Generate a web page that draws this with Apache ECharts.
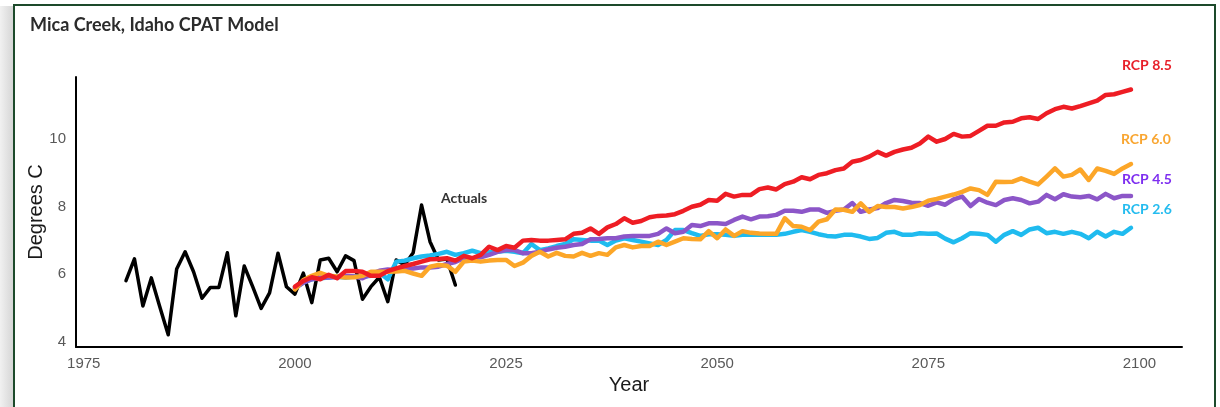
<!DOCTYPE html>
<html>
<head>
<meta charset="utf-8">
<script src="https://cdn.jsdelivr.net/npm/echarts@6/dist/echarts.min.js"></script>
<style>
  html, body { margin: 0; padding: 0; background: #fff; }
  #shade {
    position: absolute; left: 0; top: 6px; width: 13px; height: 420px;
    background: linear-gradient(to right, #f1f1f1, #d6d6d6);
  }
  #frame {
    position: absolute; left: 13px; top: 4px; width: 1199px; height: 430px;
    border: 2px solid #1d4a2b; background: #fff;
  }
  #chart { position: absolute; left: 0; top: 0; width: 1220px; height: 407px; }
</style>
</head>
<body>
<div id="shade"></div>
<div id="frame"></div>
<div id="chart"></div>
<script>
// observed annual mean temperature, 1980-2019
const actualStart = 1980
const actuals = [5.81, 6.45, 5.06, 5.89, 5.04, 4.21, 6.15, 6.66, 6.07, 5.29,
  5.61, 5.61, 6.63, 4.77, 6.24, 5.63, 4.99, 5.45, 6.62, 5.63,
  5.41, 6.03, 5.16, 6.42, 6.47, 6.07, 6.54, 6.40, 5.26, 5.63,
  5.91, 5.19, 6.42, 6.27, 6.63, 8.04, 6.96, 6.42, 6.45, 5.68]

// model projections, 2000-2099
const modelStart = 2000
const rcp85 = [5.63, 5.8, 5.91, 5.85, 5.98, 5.88, 6.09, 6.09, 6.07, 5.95,
  5.95, 6.09, 6.17, 6.24, 6.30, 6.37, 6.44, 6.45, 6.47, 6.4,
  6.54, 6.47, 6.57, 6.81, 6.71, 6.83, 6.78, 6.99, 7.01, 6.99,
  6.99, 7.01, 7.03, 7.19, 7.22, 7.35, 7.19, 7.38, 7.48, 7.65,
  7.52, 7.57, 7.68, 7.72, 7.73, 7.77, 7.87, 7.99, 8.05, 8.19,
  8.17, 8.37, 8.29, 8.34, 8.34, 8.51, 8.56, 8.5, 8.66, 8.73,
  8.86, 8.8, 8.93, 8.98, 9.07, 9.12, 9.32, 9.37, 9.47, 9.61,
  9.5, 9.61, 9.68, 9.73, 9.86, 10.06, 9.91, 9.99, 10.14, 10.06,
  10.08, 10.23, 10.38, 10.38, 10.48, 10.5, 10.6, 10.63, 10.58, 10.75,
  10.87, 10.94, 10.89, 10.96, 11.04, 11.12, 11.29, 11.31, 11.38, 11.45]
const rcp60 = [5.55, 5.83, 5.95, 6.04, 5.95, 5.93, 5.9, 5.91, 5.95, 6.07,
  6.07, 6.07, 6.08, 6.1, 6.02, 5.95, 6.22, 6.27, 6.25, 6.07,
  6.37, 6.4, 6.37, 6.4, 6.42, 6.42, 6.24, 6.34, 6.54, 6.66,
  6.52, 6.63, 6.54, 6.52, 6.63, 6.54, 6.62, 6.57, 6.79, 6.86,
  6.79, 6.83, 6.83, 6.96, 6.86, 6.96, 7.06, 7.04, 7.03, 7.27,
  7.06, 7.32, 7.13, 7.27, 7.22, 7.2, 7.19, 7.19, 7.65, 7.42,
  7.4, 7.3, 7.55, 7.62, 7.91, 7.9, 7.84, 8.09, 7.84, 8.01,
  7.98, 7.98, 7.94, 7.98, 8.04, 8.17, 8.22, 8.29, 8.35, 8.43,
  8.53, 8.48, 8.34, 8.73, 8.72, 8.73, 8.83, 8.73, 8.65, 8.88,
  9.12, 8.88, 8.93, 9.09, 8.78, 9.12, 9.05, 8.96, 9.12, 9.25]
const rcp45 = [5.58, 5.75, 5.85, 5.9, 5.9, 5.92, 5.95, 5.93, 5.88, 6.0,
  6.1, 6.14, 6.12, 6.17, 6.17, 6.2, 6.2, 6.22, 6.3, 6.36,
  6.47, 6.47, 6.5, 6.57, 6.66, 6.71, 6.71, 6.62, 6.62, 6.66,
  6.73, 6.78, 6.81, 6.86, 6.89, 7.03, 7.04, 7.06, 7.06, 7.11,
  7.13, 7.13, 7.13, 7.19, 7.35, 7.21, 7.25, 7.45, 7.42, 7.5,
  7.5, 7.48, 7.6, 7.7, 7.62, 7.7, 7.71, 7.75, 7.87, 7.87,
  7.84, 7.91, 7.91, 7.81, 7.87, 7.91, 8.1, 7.84, 7.91, 7.95,
  8.1, 8.19, 8.16, 8.11, 8.1, 8.02, 8.12, 8.05, 8.21, 8.29,
  8.01, 8.22, 8.11, 8.04, 8.19, 8.24, 8.19, 8.09, 8.14, 8.34,
  8.21, 8.36, 8.29, 8.27, 8.31, 8.21, 8.37, 8.24, 8.31, 8.31]
const rcp26 = [5.6, 5.75, 5.85, 5.88, 5.9, 5.92, 5.9, 5.93, 5.92, 5.95,
  6.05, 5.85, 6.37, 6.4, 6.47, 6.52, 6.55, 6.6, 6.66, 6.57,
  6.62, 6.69, 6.62, 6.65, 6.66, 6.69, 6.66, 6.62, 6.89, 6.71,
  6.76, 6.83, 6.89, 7.03, 7.01, 6.99, 6.99, 6.86, 6.99, 7.06,
  7.01, 6.96, 6.91, 6.86, 7.01, 7.3, 7.3, 7.21, 7.13, 7.18,
  7.18, 7.16, 7.13, 7.16, 7.16, 7.17, 7.16, 7.16, 7.19, 7.25,
  7.3, 7.25, 7.18, 7.13, 7.11, 7.16, 7.16, 7.11, 7.04, 7.07,
  7.22, 7.25, 7.16, 7.16, 7.21, 7.19, 7.2, 7.05, 6.94, 7.06,
  7.21, 7.19, 7.16, 6.96, 7.16, 7.27, 7.16, 7.32, 7.37, 7.21,
  7.25, 7.19, 7.25, 7.19, 7.06, 7.25, 7.11, 7.25, 7.19, 7.37]

const xTicks = [1975, 2000, 2025, 2050, 2075, 2100]
const yTicks = [4, 6, 8, 10]

function pairs(start, arr) {
    return arr.map(function (v, i) { return [start + i, v] })
}

let chart = echarts.init(document.querySelector('#chart'), null, { renderer: 'canvas' })

let lineStyleOf = function (color, w) {
    return { color: color, width: w, cap: 'round', join: 'round' }
}

let option = {
    backgroundColor: 'transparent',
    animation: false,
    title: {
        text: 'Mica Creek, Idaho CPAT Model',
        left: 30,
        top: 16,
        padding: 0,
        textStyle: { fontFamily: 'Lato', fontWeight: 'bold', fontSize: 18, color: '#2b2b2b' }
    },
    grid: { left: 76, right: 38, top: 77, bottom: 60, outerBoundsMode: 'none' },
    xAxis: {
        type: 'value',
        min: 1974.08,
        max: 2105.04,
        name: 'Year',
        nameLocation: 'middle',
        nameGap: 28,
        nameMoveOverlap: false,
        nameTextStyle: { fontFamily: 'Liberation Sans', fontSize: 20, color: '#1a1a1a' },
        axisLine: { lineStyle: { color: '#000', width: 2 } },
        axisTick: { show: false },
        splitLine: { show: false },
        axisLabel: {
            customValues: xTicks,
            margin: 9,
            fontFamily: 'Liberation Sans',
            fontSize: 15,
            color: '#595959',
            formatter: function (v) { return String(v) }
        }
    },
    yAxis: {
        type: 'value',
        min: 3.85,
        max: 11.82,
        name: 'Degrees C',
        nameLocation: 'middle',
        nameGap: 30,
        nameMoveOverlap: false,
        nameTextStyle: { fontFamily: 'Liberation Sans', fontSize: 20, color: '#1a1a1a' },
        axisLine: { show: true, lineStyle: { color: '#000', width: 2 } },
        axisTick: { show: false },
        splitLine: { show: false },
        axisLabel: {
            customValues: yTicks,
            margin: 10,
            fontFamily: 'Liberation Sans',
            fontSize: 15,
            color: '#595959'
        }
    },
    graphic: [
        { type: 'text', left: 1122, top: 58, style: { text: 'RCP 8.5', fill: '#e8202a', font: 'bold 14px Lato' } },
        { type: 'text', left: 1121, top: 132, style: { text: 'RCP 6.0', fill: '#f9a631', font: 'bold 14px Lato' } },
        { type: 'text', left: 1122, top: 172, style: { text: 'RCP 4.5', fill: '#7e2ff0', font: 'bold 14px Lato' } },
        { type: 'text', left: 1122, top: 202, style: { text: 'RCP 2.6', fill: '#25bcef', font: 'bold 14px Lato' } },
        { type: 'text', left: 441, top: 191, style: { text: 'Actuals', fill: '#333333', font: 'bold 14px Lato' } }
    ],
    series: [
        { name: 'Actuals', type: 'line', data: pairs(actualStart, actuals), showSymbol: false, lineStyle: lineStyleOf('#000000', 3.5) },
        { name: 'RCP 2.6', type: 'line', data: pairs(modelStart, rcp26), showSymbol: false, lineStyle: lineStyleOf('#1fbbef', 4.5) },
        { name: 'RCP 4.5', type: 'line', data: pairs(modelStart, rcp45), showSymbol: false, lineStyle: lineStyleOf('#8c56c8', 4.5) },
        { name: 'RCP 6.0', type: 'line', data: pairs(modelStart, rcp60), showSymbol: false, lineStyle: lineStyleOf('#fca628', 4.5) },
        { name: 'RCP 8.5', type: 'line', data: pairs(modelStart, rcp85), showSymbol: false, lineStyle: lineStyleOf('#ee1d24', 4.5) }
    ]
}

chart.setOption(option)
</script>
</body>
</html>
